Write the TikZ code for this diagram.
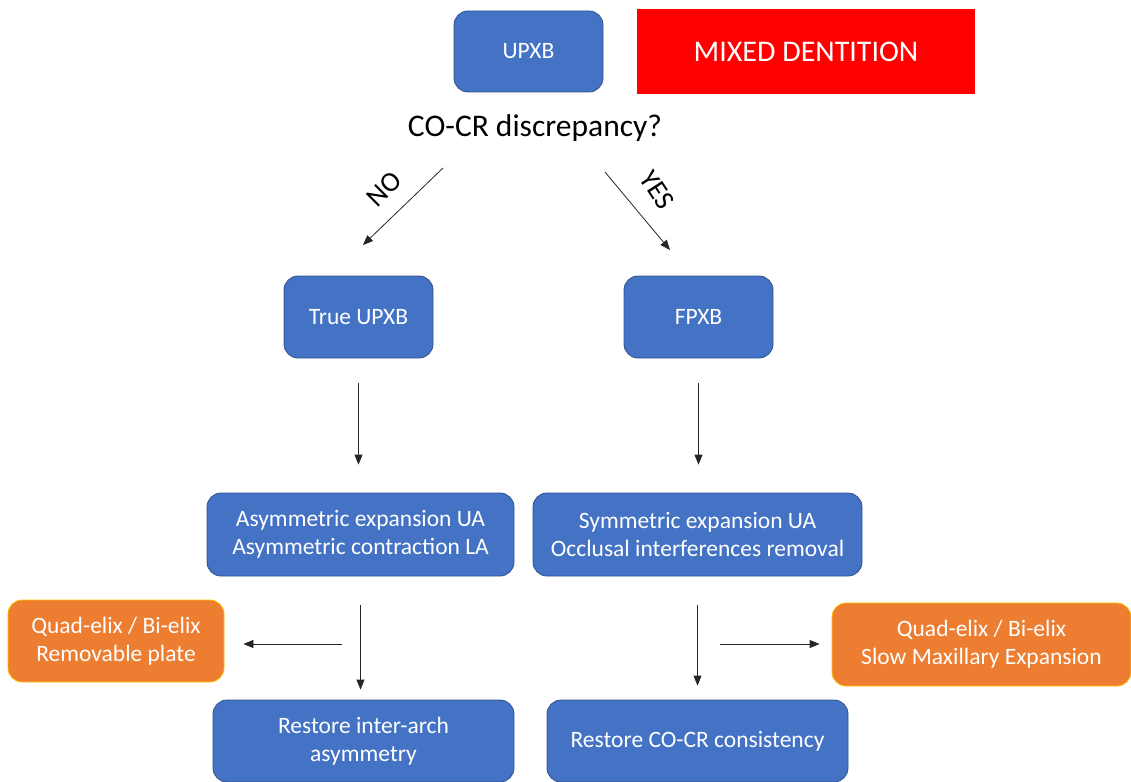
\documentclass[tikz,border=0pt]{standalone}
\usepackage{fontspec}
\setmainfont{Carlito}
\usetikzlibrary{arrows.meta}
\definecolor{boxblue}{HTML}{4472C4}
\definecolor{boxedge}{HTML}{2F528F}
\definecolor{boxorange}{HTML}{ED7D31}
\definecolor{orangeedge}{HTML}{FFC000}
\definecolor{alarmred}{HTML}{FF0000}

\begin{document}
\begin{tikzpicture}[x=1pt,y=-1pt,
  bluebox/.style={draw=boxedge, fill=boxblue, rounded corners=14pt, text=white,
    align=center, inner sep=0pt, line width=0.8pt, font=\fontsize{23.5}{28}\selectfont},
  orangebox/.style={bluebox, draw=orangeedge, fill=boxorange},
  arr/.style={-{Triangle[length=10pt,width=8pt]}, line width=0.8pt, black!85}]
\useasboundingbox (0,0) rectangle (1131,781);

% top row
\node[bluebox, minimum width=149pt, minimum height=81pt] (upxb) at (528.5,51.5) {UPXB};
\node[fill=alarmred, text=white, minimum width=338pt, minimum height=85pt,
  font=\fontsize{30}{34}\selectfont] (mixed) at (806,51.5) {MIXED DENTITION};
\node[font=\fontsize{31.5}{36}\selectfont] (cocr) at (535,128) {CO-CR discrepancy?};

% branches
\coordinate (noA) at (443,168);
\coordinate (noB) at (363,245);
\coordinate (yesA) at (605,172);
\coordinate (yesB) at (670,250);
\draw[arr] (noA) -- (noB);
\draw[arr] (yesA) -- (yesB);
\node[rotate=45, font=\fontsize{28}{32}\selectfont] (nolab) at (384,189) {NO};
\node[rotate=-57, font=\fontsize{28}{32}\selectfont] (yeslab) at (657,190) {YES};

% second row
\node[bluebox, minimum width=149pt, minimum height=82pt] (true) at (358.5,317) {True UPXB};
\node[bluebox, minimum width=149pt, minimum height=82pt] (fpxb) at (698.5,317) {FPXB};

% third row
\node[bluebox, minimum width=307pt, minimum height=83pt] (asym) at (360.5,534.5)
  {Asymmetric expansion UA\\Asymmetric contraction LA};
\node[bluebox, minimum width=329pt, minimum height=83pt] (sym) at (697.5,534.5)
  {Symmetric expansion UA\\Occlusal interferences removal};
\draw[arr, shorten <=25pt, shorten >=28pt] (true.south) -- (true.south |- asym.north);
\draw[arr, shorten <=25pt, shorten >=28pt] (fpxb.south) -- (fpxb.south |- sym.north);

% appliances
\node[orangebox, minimum width=216pt, minimum height=82pt] (quadL) at (116,641)
  {Quad-elix / Bi-elix\\Removable plate};
\node[orangebox, minimum width=299pt, minimum height=83pt] (quadR) at (981.5,644.5)
  {Quad-elix / Bi-elix\\Slow Maxillary Expansion};

% last row
\node[bluebox, minimum width=301pt, minimum height=82pt] (restL) at (363.5,741)
  {Restore inter-arch\\asymmetry};
\node[bluebox, minimum width=301pt, minimum height=82pt] (restR) at (697.5,741)
  {Restore CO-CR consistency};
\draw[arr, shorten <=29pt, shorten >=10pt] (asym.south) -- (asym.south |- restL.north);
\draw[arr, shorten <=29pt, shorten >=14pt] (sym.south) -- (sym.south |- restR.north);

\coordinate (lsplit) at (342,644);
\coordinate (rsplit) at (720,644);
\draw[arr, shorten >=19pt] (lsplit) -- (quadL.east |- lsplit);
\draw[arr, shorten >=12pt] (rsplit) -- (quadR.west |- rsplit);
\end{tikzpicture}
\end{document}
